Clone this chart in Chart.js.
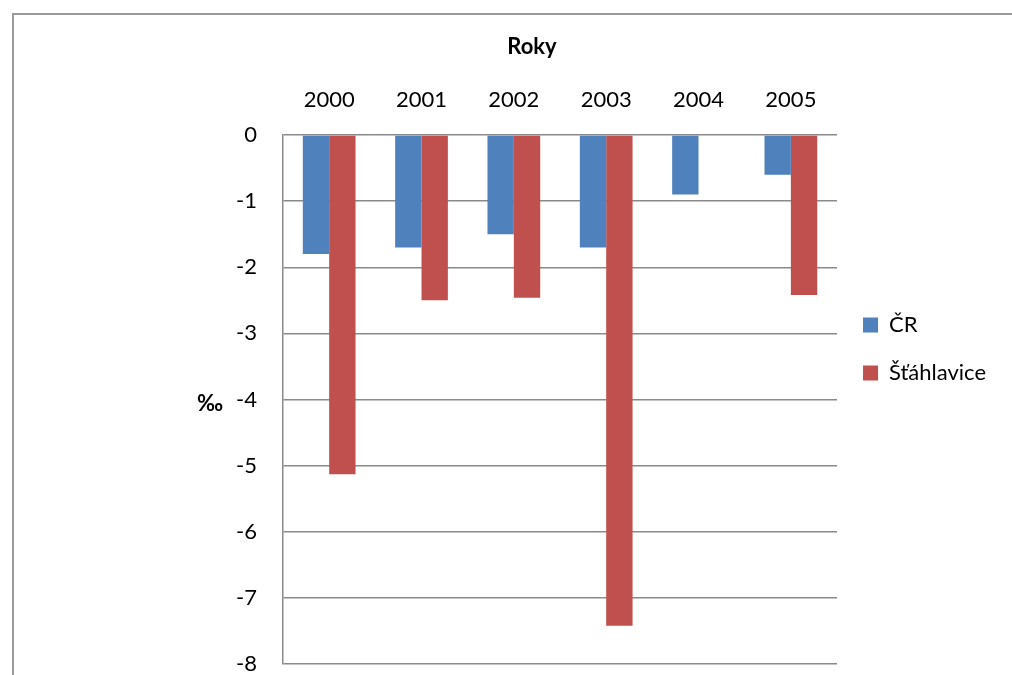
<!DOCTYPE html>
<html>
<head>
<meta charset="utf-8">
<script src="https://cdn.jsdelivr.net/npm/chart.js@4"></script>
<style>
  html, body { margin: 0; padding: 0; background: #fff; overflow: hidden; }
  #frame { position: absolute; left: 12px; top: 13px; width: 1100px; height: 700px;
           border-left: 2px solid #9a9a9a; border-top: 2px solid #9a9a9a; }
  #wrap { position: absolute; left: 0; top: 0; width: 1012px; height: 675px; }
</style>
</head>
<body>
<div id="frame"></div>
<div id="wrap"><canvas id="chart"></canvas></div>
<script>
const years = ['2000', '2001', '2002', '2003', '2004', '2005'];
const cr = [-1.8, -1.7, -1.5, -1.7, -0.9, -0.6];
const stahlavice = [-5.13, -2.5, -2.46, -7.42, 0, -2.42];
const seriesNames = ['ČR', 'Šťáhlavice'];
const yMin = -8, yMax = 0, yStep = 1;

const FONT = 'Lato, "Open Sans", sans-serif';
Chart.defaults.color = '#000';
Chart.defaults.font.family = FONT;
Chart.defaults.font.size = 22;

// the permille unit sits horizontally left of the y ticks
const unitLabel = {
  id: 'unitLabel',
  afterDraw(chart) {
    const { ctx, chartArea, scales } = chart;
    ctx.save();
    ctx.font = 'bold 22px ' + FONT;
    ctx.fillStyle = '#000';
    ctx.textAlign = 'center';
    ctx.textBaseline = 'middle';
    ctx.fillText('‰', scales.y.right - 73, (chartArea.top + chartArea.bottom) / 2 + 4);
    ctx.restore();
  }
};

new Chart(document.getElementById('chart'), {
  type: 'bar',
  data: {
    labels: years,
    datasets: [
      { label: seriesNames[0], data: cr, backgroundColor: '#4F81BD' },
      { label: seriesNames[1], data: stahlavice, backgroundColor: '#C0504D' }
    ]
  },
  options: {
    responsive: true,
    maintainAspectRatio: false,
    animation: false,
    devicePixelRatio: 1,
    categoryPercentage: 0.571,
    barPercentage: 1,
    layout: { padding: { left: 68, right: 16, top: 34, bottom: 11 } },
    plugins: {
      title: { display: true, text: 'Roky', font: { size: 22, weight: 'bold' }, padding: 0 },
      legend: {
        position: 'right',
        labels: { boxWidth: 15, boxHeight: 15, padding: 26, font: { size: 22 } }
      },
      tooltip: { enabled: false }
    },
    scales: {
      x: {
        position: 'top',
        grid: { display: false },
        border: { display: false },
        ticks: { padding: 14, maxRotation: 0 },
        afterFit: s => { s.height = 74.6; }
      },
      y: {
        min: yMin, max: yMax,
        ticks: { stepSize: yStep, padding: 0, font: { size: 22, lineHeight: 1 } },
        grid: { color: '#8a8a8a', lineWidth: 1.5, drawTicks: true, tickLength: 26, tickColor: 'rgba(0,0,0,0)' },
        border: { display: true, color: '#8a8a8a', width: 1.5 },
        afterFit: s => { s.width = 215; }
      }
    }
  },
  plugins: [unitLabel]
});
</script>
</body>
</html>
